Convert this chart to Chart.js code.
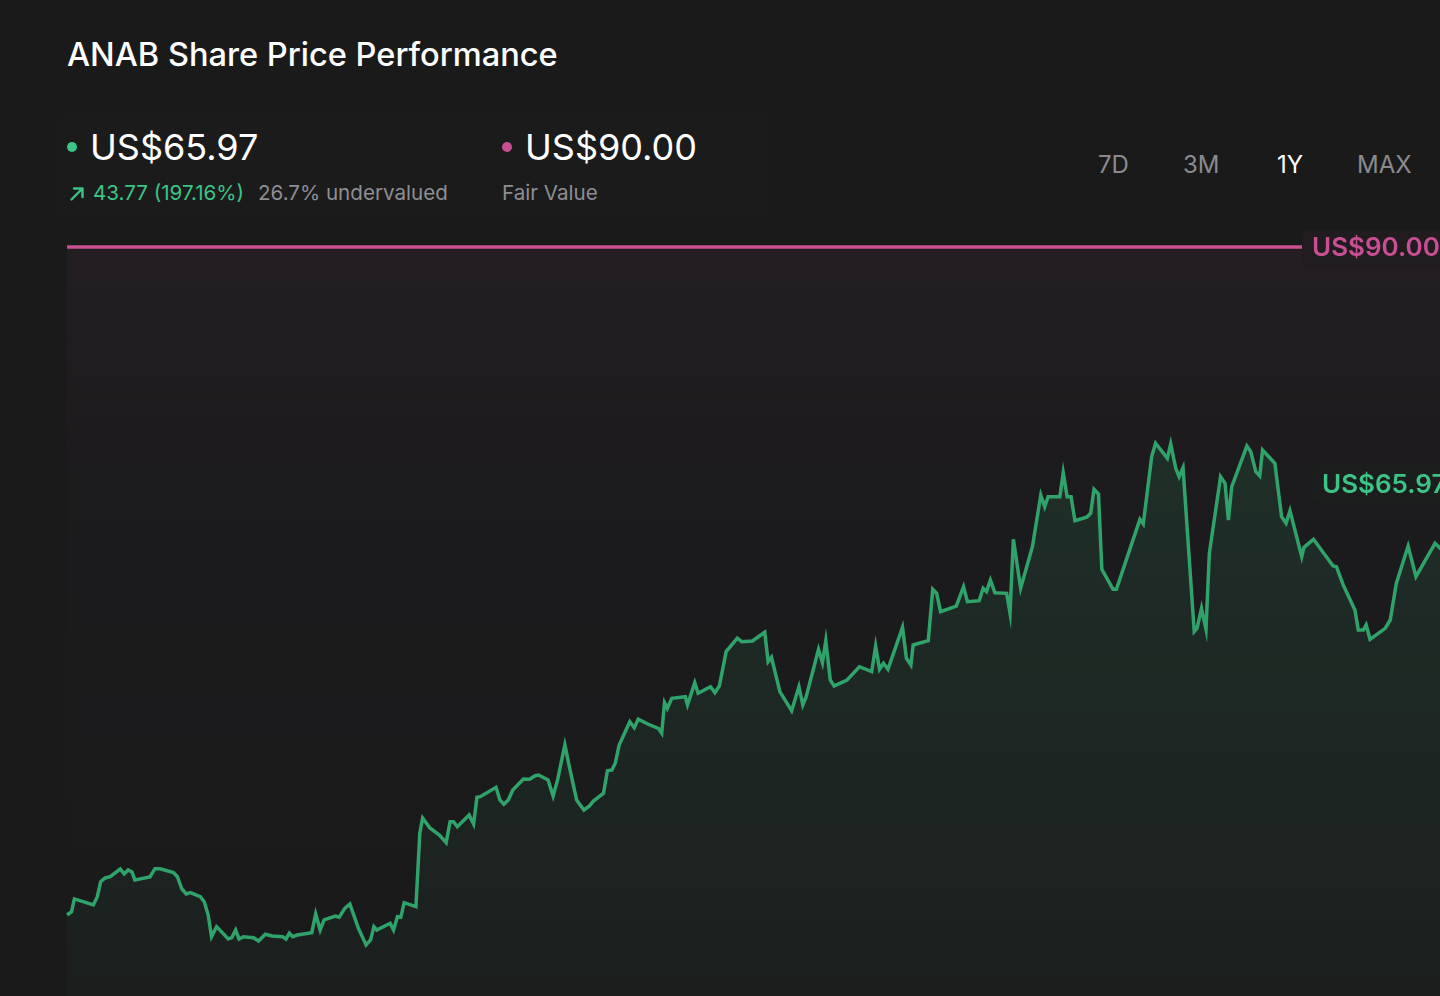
<!DOCTYPE html>
<html>
<head>
<meta charset="utf-8">
<title>ANAB Share Price Performance</title>
<script src="https://cdn.jsdelivr.net/npm/chart.js@4.4.1/dist/chart.umd.min.js"></script>
<style>
  html, body {
    margin: 0;
    padding: 0;
    width: 1440px;
    height: 996px;
    overflow: hidden;
    background: #1a1a1b;
    font-family: Inter, "Noto Sans", sans-serif;
    color: #fff;
  }
  .abs { position: absolute; white-space: nowrap; }
  #title { left: 67px; top: 38px; font-size: 32.6px; line-height: 32px; font-weight: 500; }
  .big { font-size: 36px; line-height: 40px; top: 127px; font-weight: 400; }
  .small { font-size: 20.6px; line-height: 24px; top: 181px; }
  .dot { position: absolute; width: 10px; height: 10px; border-radius: 50%; top: 142px; }
  .period { font-size: 24px; line-height: 28px; top: 151px; color: #8a8a8e; }
  #header-box { position: absolute; left: 62px; top: 115px; width: 706px; height: 102px; background: rgba(255,255,255,0.008); }
  #chart-wrap { position: absolute; left: 57px; top: 230px; width: 1420px; height: 766px; }
</style>
</head>
<body>
<div id="header-box"></div>
<div id="title" class="abs">ANAB Share Price Performance</div>

<div class="dot" style="left:67px;background:#3cc486;"></div>
<div class="abs big" style="left:90px;">US$65.97</div>
<svg class="abs" style="left:69px;top:185px;" width="17" height="17" viewBox="0 0 17 17">
  <path d="M2.5 14.5 L13.5 3.5 M5 3.5 L13.5 3.5 L13.5 12" fill="none" stroke="#3cc486" stroke-width="2.4" stroke-linecap="round" stroke-linejoin="round"/>
</svg>
<div class="abs small" style="left:93px;color:#3cc486;">43.77 (197.16%)</div>
<div class="abs small" style="left:258px;color:#8e8e93;">26.7% undervalued</div>

<div class="dot" style="left:502px;background:#c94f93;"></div>
<div class="abs big" style="left:525px;">US$90.00</div>
<div class="abs small" style="left:502px;color:#8e8e93;">Fair Value</div>

<div class="abs period" style="left:1098px;">7D</div>
<div class="abs period" style="left:1183px;">3M</div>
<div class="abs period" style="left:1277px;color:#ffffff;">1Y</div>
<div class="abs period" style="left:1357px;">MAX</div>

<div id="chart-wrap"><canvas id="priceChart"></canvas></div>

<script>
// --- Data: trading day index (1Y window) and closing price in US$ ---
const priceDays = [
  0.0, 0.8, 1.3, 4.7, 5.4, 6.0, 6.8, 7.7, 9.5, 10.2, 10.9, 11.6, 12.1, 14.8, 15.7, 16.6,
  19.0, 19.7, 20.5, 21.3, 22.0, 23.8, 24.5, 25.2, 25.8, 26.7, 28.8, 29.4, 30.1, 30.7, 31.5,
  33.3, 34.2, 35.4, 36.6, 38.5, 39.1, 39.7, 40.3, 41.1, 43.7, 44.4, 45.2, 45.9, 47.9, 48.6,
  49.6, 50.5, 52.0, 53.4, 54.2, 54.8, 55.3, 57.7, 58.3, 59.0, 59.6, 60.2, 62.3, 63.0, 63.5,
  64.8, 66.5, 67.7, 68.4, 69.0, 69.7, 71.8, 72.6, 73.2, 73.8, 76.6, 77.3, 78.0, 78.8, 79.6,
  81.5, 82.6, 83.6, 84.2, 85.9, 86.8, 87.6, 88.9, 89.7, 91.0, 92.3, 93.3, 94.0, 95.8, 96.5,
  97.3, 97.9, 98.6, 100.5, 101.3, 102.0, 103.8, 105.6, 106.2, 106.7, 107.2, 108.0, 110.4, 110.8,
  112.1, 112.7, 114.9, 115.7, 116.5, 117.7, 119.7, 120.5, 122.4, 124.6, 125.2, 125.8, 127.3,
  129.4, 130.7, 131.4, 132.0, 134.2, 134.9, 135.5, 136.3, 137.0, 139.3, 141.5, 143.7, 144.4,
  145.1, 145.8, 146.6, 149.2, 149.9, 150.7, 151.1, 153.8, 154.6, 155.3, 156.0,
  158.8, 160.1, 160.8, 162.9, 163.6, 164.2, 164.9, 165.7, 167.8, 168.4, 169.0, 170.3, 172.4,
  173.9, 174.6, 175.2, 177.3, 177.9, 178.6, 179.3, 180.0, 182.1, 182.8, 183.4, 184.2, 184.8,
  186.8, 187.4, 191.6, 192.2, 193.7, 194.4, 196.5, 197.1, 198.0, 198.6, 199.3,
  201.3, 201.8, 202.6, 203.4, 204.0, 206.0, 206.8, 207.4, 208.0, 210.7, 211.4, 212.3, 213.0,
  213.5, 215.7, 216.9, 217.7, 218.4, 220.5, 220.9, 222.6, 226.1, 226.7, 227.9, 230.0, 230.6,
  231.5, 232.0, 232.7, 235.4, 236.3, 237.4, 239.5, 240.9, 244.3, 245.2, 247.3, 249.6
];
const priceValues = [
  22.20, 22.54, 23.83, 23.22, 24.06, 25.58, 25.96, 26.09, 26.87, 26.37, 26.77, 26.57, 25.76, 26.06, 26.90, 26.90,
  26.50, 26.09, 24.84, 24.33, 24.47, 24.06, 23.55, 22.20, 20.00, 21.02, 19.77, 19.90, 20.68, 19.77, 20.00,
  19.90, 19.57, 20.25, 20.07, 20.00, 19.77, 20.35, 20.00, 20.17, 20.41, 22.31, 20.68, 21.70, 22.10, 21.97,
  22.88, 23.32, 20.89, 19.16, 19.67, 21.02, 20.68, 21.36, 20.68, 22.03, 21.97, 23.45, 23.05, 30.53, 32.05,
  31.04, 30.32, 29.54, 31.67, 31.67, 31.17, 32.35, 31.44, 34.15, 34.21, 35.16, 33.88, 33.44, 33.88, 34.89,
  36.01, 35.98, 36.34, 36.41, 35.91, 34.28, 35.91, 39.46, 37.26, 33.88, 32.86, 33.27, 33.77, 34.56, 36.85,
  36.92, 37.60, 39.46, 41.82, 41.21, 42.07, 41.56, 41.15, 40.65, 43.75, 43.18, 44.20, 44.36, 43.52,
  45.78, 44.70, 45.37, 44.77, 45.45, 48.93, 50.29, 49.94, 50.01, 50.90, 47.91, 48.36, 44.87,
  42.94, 45.37, 43.52, 44.36, 49.17, 47.81, 50.04, 46.05, 45.45, 46.05, 47.40, 46.90, 49.50,
  47.14, 47.75, 47.14, 51.40, 48.26, 47.58, 49.61, 50.04, 55.26, 54.85, 52.99,
  53.56, 55.52, 54.00, 54.10, 55.36, 55.02, 56.20, 54.91, 54.85, 52.82, 60.33, 55.36, 59.58,
  64.83, 63.64, 64.66, 64.66, 67.09, 64.66, 64.66, 62.22, 62.57, 62.97, 65.41, 64.93, 57.29,
  55.26, 55.26, 62.36, 61.89, 68.72, 70.08, 68.55, 70.01, 67.54, 66.69, 67.60,
  50.96, 51.30, 53.33, 51.20, 58.91, 66.69, 66.02, 62.29, 65.67, 69.80, 69.22, 67.19, 66.76,
  69.40, 68.05, 62.63, 61.96, 63.24, 58.57, 59.52, 60.33, 57.62, 57.55, 55.70, 53.16, 51.13,
  51.13, 51.64, 50.18, 51.30, 52.14, 55.87, 59.65, 56.54, 59.93, 59.43, 61.78, 65.97
];
const lastPrice = 65.97;
const fairValue = 90.00;
const fairValueDays = [0, 252];

// --- Colours ---
const green = 'rgb(48, 163, 107)';
const greenText = '#3cc486';
const pink = '#c94f93';

function greenFill(context) {
  const area = context.chart.chartArea;
  if (!area) return 'rgba(47,162,106,0.1)';
  const g = context.chart.ctx.createLinearGradient(0, 200, 0, area.bottom);
  g.addColorStop(0, 'rgba(47,162,106,0.15)');
  g.addColorStop(1, 'rgba(47,162,106,0.04)');
  return g;
}

function pinkFill(context) {
  const area = context.chart.chartArea;
  if (!area) return 'rgba(201,79,147,0.03)';
  const g = context.chart.ctx.createLinearGradient(0, 17, 0, area.bottom);
  g.addColorStop(0, 'rgba(215,110,170,0.055)');
  g.addColorStop(0.3, 'rgba(215,110,170,0.015)');
  g.addColorStop(1, 'rgba(215,110,170,0.004)');
  return g;
}

// draws the value tags at the right edge
const valueTags = {
  id: 'valueTags',
  afterDatasetsDraw(chart) {
    const ctx = chart.ctx;
    const y = chart.scales.y;
    const tags = [
      { value: fairValue, color: pink, box: '#211c20', left: 1245 },
      { value: lastPrice, color: greenText, box: '#1b1e1d', left: 1255 }
    ];
    ctx.save();
    ctx.font = '600 26px Inter, "Noto Sans", sans-serif';
    ctx.textBaseline = 'middle';
    tags.forEach(t => {
      const py = y.getPixelForValue(t.value);
      ctx.fillStyle = t.box;
      ctx.beginPath();
      ctx.roundRect(t.left, py - 20, 220, 40, 6);
      ctx.fill();
      ctx.fillStyle = t.color;
      ctx.fillText('US$' + t.value.toFixed(2), t.left + 10, py + 1);
    });
    ctx.restore();
  }
};

const ctx = document.getElementById('priceChart').getContext('2d');
new Chart(ctx, {
  type: 'line',
  data: {
    datasets: [
      {
        label: 'ANAB',
        data: priceDays.map((d, i) => ({ x: d, y: priceValues[i] })),
        borderColor: green,
        borderWidth: 3.5,
        backgroundColor: greenFill,
        fill: 'start',
        pointRadius: 0,
        tension: 0,
        order: 0
      },
      {
        label: 'Fair Value',
        data: fairValueDays.map(d => ({ x: d, y: fairValue })),
        borderColor: pink,
        borderWidth: 3.5,
        backgroundColor: pinkFill,
        fill: 'start',
        pointRadius: 0,
        order: 1
      }
    ]
  },
  options: {
    responsive: true,
    maintainAspectRatio: false,
    animation: false,
    layout: { padding: 0 },
    scales: {
      x: { type: 'linear', min: -1.8, max: 251.8, display: false },
      y: { min: 13.98, max: 91.725, display: false }
    },
    plugins: {
      legend: { display: false },
      tooltip: { enabled: false }
    }
  },
  plugins: [valueTags]
});
</script>
</body>
</html>
